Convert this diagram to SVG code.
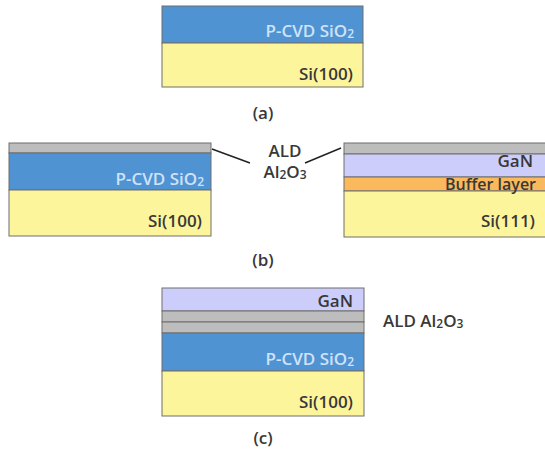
<svg xmlns="http://www.w3.org/2000/svg" width="545" height="450" viewBox="0 0 545 450">
  <style>
    .layer { stroke: #6e6e6e; stroke-width: 1; }
    .sio2 { fill: #4f93d3; }
    .si { fill: #fdf59c; }
    .al2o3 { fill: #bdbdbd; }
    .gan { fill: #cccdfa; }
    .buf { fill: #f9b95c; }
    .lbl { font-family: "Open Sans", "Liberation Sans", sans-serif; font-size: 17px; font-weight: 600; text-anchor: end; fill: #383838; }
    .lbl-light { fill: #cfe2f7; }
    .small { font-size: 16px; }
    .cap { font-family: "Open Sans", "Liberation Sans", sans-serif; font-size: 17px; font-weight: 600; text-anchor: middle; fill: #383838; }
    .note { font-family: "Open Sans", "Liberation Sans", sans-serif; font-size: 17px; font-weight: 600; fill: #383838; }
    .sub { font-size: 12px; }
    .lead { stroke: #222222; stroke-width: 1.5; fill: none; }
  </style>

  <!-- (a) SiO2 on Si(100) -->
  <g id="stack-a">
    <rect class="layer sio2" x="162" y="6" width="201" height="37"/>
    <rect class="layer si" x="162" y="43" width="201" height="44"/>
    <text class="lbl lbl-light" x="354" y="37">P-CVD SiO<tspan class="sub" dy="1">2</tspan></text>
    <text class="lbl" x="353" y="80">Si(100)</text>
  </g>
  <text class="cap" x="263" y="119">(a)</text>

  <!-- (b) left: Al2O3 / SiO2 / Si(100) -->
  <g id="stack-b-left">
    <rect class="layer al2o3" x="9" y="143" width="202" height="10"/>
    <rect class="layer sio2" x="9" y="153" width="202" height="37"/>
    <rect class="layer si" x="9" y="190" width="202" height="46"/>
    <text class="lbl lbl-light" x="204" y="185">P-CVD SiO<tspan class="sub" dy="1">2</tspan></text>
    <text class="lbl" x="202" y="227">Si(100)</text>
  </g>

  <!-- (b) right: Al2O3 / GaN / buffer / Si(111) -->
  <g id="stack-b-right">
    <rect class="layer al2o3" x="344" y="143" width="202" height="11"/>
    <rect class="layer gan" x="344" y="154" width="202" height="23"/>
    <rect class="layer buf" x="344" y="177" width="202" height="14"/>
    <rect class="layer si" x="344" y="191" width="202" height="46"/>
    <text class="lbl" x="533" y="167">GaN</text>
    <text class="lbl small" x="536" y="190">Buffer layer</text>
    <text class="lbl" x="535" y="227">Si(111)</text>
  </g>

  <g id="label-ald">
    <text class="cap" x="285" y="157">ALD</text>
    <text class="cap" x="285" y="178">Al<tspan class="sub" dy="1">2</tspan><tspan dy="-1">O</tspan><tspan class="sub" dy="1">3</tspan></text>
  </g>

  <g id="connectors">
    <line class="lead" x1="212" y1="149" x2="250" y2="163"/>
    <line class="lead" x1="305" y1="163" x2="341" y2="148"/>
  </g>

  <text class="cap" x="263" y="266">(b)</text>

  <!-- (c) bonded stack -->
  <g id="stack-c">
    <rect class="layer gan" x="162" y="288" width="202" height="23"/>
    <rect class="layer al2o3" x="162" y="311" width="202" height="11"/>
    <rect class="layer al2o3" x="162" y="322" width="202" height="11"/>
    <rect class="layer sio2" x="162" y="333" width="202" height="38"/>
    <rect class="layer si" x="162" y="371" width="202" height="45"/>
    <text class="lbl" x="353" y="307">GaN</text>
    <text class="lbl lbl-light" x="354" y="365">P-CVD SiO<tspan class="sub" dy="1">2</tspan></text>
    <text class="lbl" x="353" y="408">Si(100)</text>
  </g>
  <text class="note" x="383" y="327">ALD Al<tspan class="sub" dy="1">2</tspan><tspan dy="-1">O</tspan><tspan class="sub" dy="1">3</tspan></text>
  <text class="cap" x="263" y="444">(c)</text>
</svg>
